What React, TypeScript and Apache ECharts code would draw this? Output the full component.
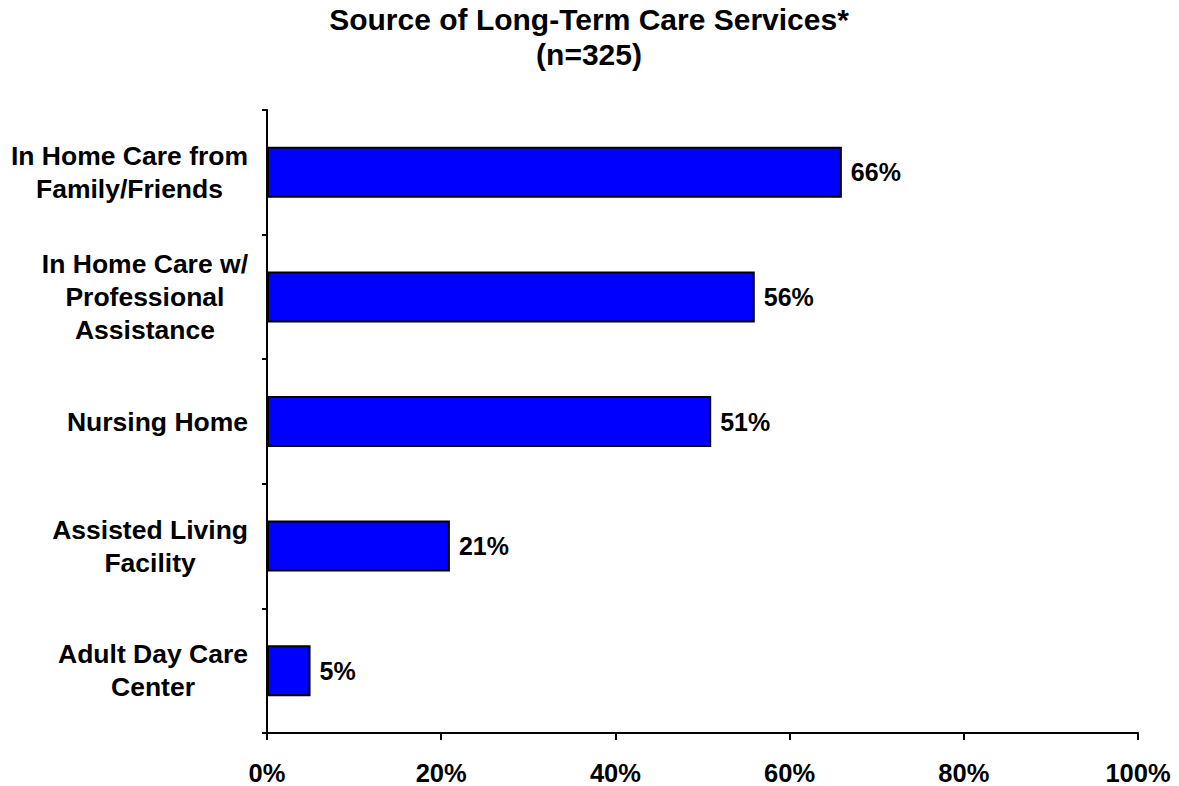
import React, { useEffect, useRef } from "react";
import * as echarts from "echarts";

const categories = [
  "In Home Care from\nFamily/Friends",
  "In Home Care w/\nProfessional\nAssistance",
  "Nursing Home",
  "Assisted Living\nFacility",
  "Adult Day Care\nCenter",
];
const values = [66, 56, 51, 21, 5];
const xTicks = [0, 20, 40, 60, 80, 100];
const titleText = "Source of Long-Term Care Services*";
const subtitleText = "(n=325)";

const FONT = 'Arial, "Liberation Sans", sans-serif';

export default function App() {
  const ref = useRef<HTMLDivElement>(null);
  useEffect(() => {
    if (!ref.current) return;
    const chart = echarts.init(ref.current, undefined, { renderer: "svg" });
    chart.setOption({
      animation: false,
      backgroundColor: "#ffffff",
      textStyle: { fontFamily: FONT },
      title: {
        text: titleText + "\n" + subtitleText,
        left: 589,
        top: 2,
        padding: 0,
        textAlign: "center",
        textStyle: {
          fontFamily: FONT,
          fontSize: 30,
          lineHeight: 35,
          fontWeight: "bold",
          color: "#000",
          align: "center",
        },
      },
      grid: { left: 267, right: 41, top: 110, bottom: 53, containLabel: false },
      xAxis: {
        type: "value",
        min: 0,
        max: 100,
        interval: 20,
        splitLine: { show: false },
        axisLine: { show: true, lineStyle: { color: "#000", width: 2 } },
        axisTick: { show: true, length: 7, lineStyle: { color: "#000", width: 2 } },
        axisLabel: {
          margin: 27,
          color: "#000",
          fontFamily: FONT,
          fontSize: 25.5,
          fontWeight: "bold",
          formatter: (v: number) => (xTicks.includes(v) ? v + "%" : ""),
        },
      },
      yAxis: {
        type: "category",
        inverse: true,
        data: categories,
        axisLine: { show: true, lineStyle: { color: "#000", width: 2 } },
        axisTick: { show: true, length: 5, lineStyle: { color: "#000", width: 2 } },
        axisLabel: {
          margin: 19,
          color: "#000",
          formatter: (v: string) =>
            v
              .split("\n")
              .map((l) => `{c|${l}}`)
              .join("\n"),
          rich: {
            c: {
              align: "center",
              fontFamily: FONT,
              fontSize: 26.5,
              fontWeight: "bold",
              color: "#000",
              lineHeight: 33,
            },
          },
        },
      },
      series: [
        {
          type: "bar",
          data: values,
          barWidth: 51,
          itemStyle: { color: "#0000ff", borderColor: "#000", borderWidth: 2 },
          label: {
            show: true,
            position: "right",
            distance: 9,
            formatter: "{c}%",
            color: "#000",
            fontFamily: FONT,
            fontSize: 25,
            fontWeight: "bold",
          },
        },
      ],
    });
    return () => chart.dispose();
  }, []);
  return (
    <div
      ref={ref}
      style={{ position: "absolute", left: 0, top: 0, width: 1179, height: 786 }}
    />
  );
}
